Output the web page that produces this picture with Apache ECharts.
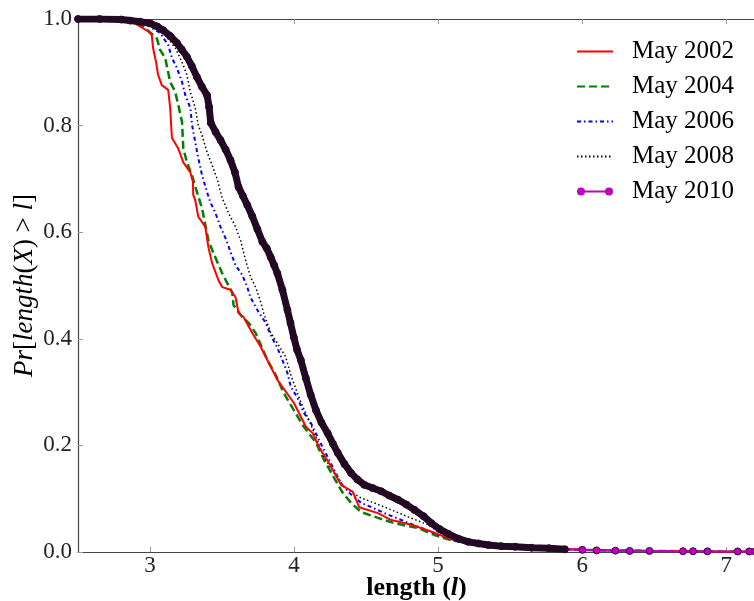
<!DOCTYPE html>
<html>
<head>
<meta charset="utf-8">
<script src="https://cdn.jsdelivr.net/npm/echarts@6/dist/echarts.min.js"></script>
<style>html,body{margin:0;padding:0;background:#fff}#c{width:754px;height:601px}</style>
</head>
<body>
<div id="c"></div>
<script>
// ---- data ----
const seriesNames = ['May 2002', 'May 2004', 'May 2006', 'May 2008', 'May 2010'];
const xTicks = [3, 4, 5, 6, 7];
const yTicks = [0, 0.2, 0.4, 0.6, 0.8, 1.0];

const x2002 = [2.5, 2.79, 2.86, 2.93, 2.986, 3.012, 3.021, 3.042, 3.056, 3.082, 3.126, 3.14, 3.152, 3.196, 3.231, 3.28, 3.298, 3.30, 3.314, 3.335, 3.384, 3.405, 3.431, 3.475, 3.501, 3.559, 3.594, 3.615, 3.649, 3.71, 3.768, 3.824, 3.884, 3.998, 4.082, 4.129, 4.173, 4.243, 4.326, 4.408, 4.452, 4.582, 4.675, 4.815, 4.975, 5.09, 5.30, 5.58, 6.0, 6.49, 7.2];
const y2002 = [1.0, 0.999, 0.998, 0.986, 0.977, 0.970, 0.946, 0.919, 0.895, 0.876, 0.867, 0.833, 0.777, 0.757, 0.731, 0.712, 0.694, 0.670, 0.660, 0.629, 0.610, 0.572, 0.542, 0.510, 0.497, 0.492, 0.478, 0.448, 0.441, 0.411, 0.385, 0.355, 0.323, 0.280, 0.235, 0.223, 0.197, 0.167, 0.126, 0.113, 0.084, 0.073, 0.060, 0.051, 0.036, 0.024, 0.015, 0.009, 0.004, 0.002, 0.0];

const x2004 = [2.5, 2.80, 2.908, 2.965, 3.047, 3.07, 3.105, 3.14, 3.175, 3.196, 3.222, 3.231, 3.256, 3.291, 3.326, 3.361, 3.405, 3.44, 3.501, 3.571, 3.58, 3.64, 3.684, 3.733, 3.815, 3.873, 3.929, 3.998, 4.068, 4.152, 4.208, 4.268, 4.338, 4.396, 4.466, 4.582, 4.696, 4.861, 4.975, 5.09, 5.30, 5.58, 6.0, 6.49, 7.2];
const y2004 = [1.0, 0.999, 0.995, 0.983, 0.964, 0.942, 0.927, 0.882, 0.863, 0.839, 0.807, 0.758, 0.731, 0.707, 0.675, 0.645, 0.585, 0.561, 0.523, 0.486, 0.463, 0.441, 0.430, 0.411, 0.360, 0.332, 0.298, 0.266, 0.235, 0.205, 0.173, 0.144, 0.111, 0.092, 0.075, 0.064, 0.054, 0.045, 0.032, 0.022, 0.013, 0.008, 0.004, 0.002, 0.0];

const x2006 = [2.5, 2.82, 2.977, 3.07, 3.126, 3.152, 3.187, 3.222, 3.245, 3.28, 3.292, 3.314, 3.335, 3.361, 3.396, 3.419, 3.454, 3.489, 3.524, 3.559, 3.594, 3.64, 3.675, 3.698, 3.754, 3.803, 3.838, 3.884, 3.919, 3.954, 3.977, 4.024, 4.068, 4.117, 4.173, 4.243, 4.326, 4.382, 4.466, 4.547, 4.626, 4.745, 4.884, 5.001, 5.12, 5.30, 5.58, 6.0, 6.49, 7.2];
const y2006 = [1.0, 0.999, 0.989, 0.974, 0.951, 0.927, 0.908, 0.882, 0.857, 0.833, 0.801, 0.769, 0.739, 0.707, 0.675, 0.656, 0.636, 0.610, 0.589, 0.563, 0.538, 0.520, 0.497, 0.477, 0.450, 0.430, 0.407, 0.383, 0.360, 0.336, 0.310, 0.289, 0.261, 0.242, 0.210, 0.173, 0.129, 0.111, 0.092, 0.083, 0.073, 0.060, 0.045, 0.032, 0.021, 0.014, 0.009, 0.004, 0.002, 0.0];

const x2008 = [2.5, 2.84, 2.986, 3.105, 3.175, 3.222, 3.256, 3.28, 3.314, 3.335, 3.361, 3.396, 3.431, 3.466, 3.501, 3.545, 3.594, 3.628, 3.663, 3.698, 3.733, 3.768, 3.789, 3.838, 3.884, 3.942, 3.98, 4.047, 4.094, 4.152, 4.208, 4.278, 4.348, 4.452, 4.557, 4.675, 4.792, 4.931, 5.001, 5.12, 5.30, 5.58, 6.0, 6.49, 7.2];
const y2008 = [1.0, 0.999, 0.995, 0.970, 0.946, 0.919, 0.895, 0.863, 0.833, 0.801, 0.782, 0.750, 0.726, 0.700, 0.664, 0.636, 0.610, 0.585, 0.548, 0.516, 0.497, 0.469, 0.448, 0.411, 0.392, 0.366, 0.330, 0.281, 0.253, 0.216, 0.178, 0.148, 0.122, 0.103, 0.092, 0.079, 0.066, 0.051, 0.038, 0.023, 0.014, 0.009, 0.004, 0.002, 0.0];

const x2010 = [2.5, 2.65, 2.8, 2.861, 2.93, 3.0, 3.05, 3.091, 3.14, 3.187, 3.22, 3.256, 3.29, 3.326, 3.36, 3.396, 3.41, 3.422, 3.455, 3.489, 3.525, 3.559, 3.59, 3.614, 3.645, 3.675, 3.71, 3.745, 3.78, 3.81, 3.838, 3.862, 3.884, 3.919, 3.954, 3.975, 3.998, 4.02, 4.047, 4.082, 4.115, 4.152, 4.19, 4.233, 4.27, 4.303, 4.35, 4.396, 4.44, 4.487, 4.545, 4.605, 4.66, 4.722, 4.78, 4.836, 4.9, 4.954, 5.01, 5.071, 5.14, 5.21, 5.28, 5.35, 5.44, 5.534, 5.65, 5.769, 5.88, 6.001, 6.1, 6.231, 6.33, 6.467, 6.70, 6.77, 6.87, 7.08, 7.16, 7.2];
const y2010 = [1.0, 1.0, 0.999, 0.997, 0.995, 0.992, 0.986, 0.979, 0.968, 0.955, 0.943, 0.929, 0.912, 0.891, 0.873, 0.857, 0.835, 0.805, 0.788, 0.773, 0.755, 0.735, 0.712, 0.685, 0.668, 0.651, 0.630, 0.606, 0.582, 0.570, 0.553, 0.538, 0.523, 0.492, 0.454, 0.430, 0.403, 0.380, 0.360, 0.326, 0.295, 0.266, 0.243, 0.223, 0.203, 0.186, 0.165, 0.148, 0.136, 0.126, 0.120, 0.114, 0.106, 0.098, 0.089, 0.079, 0.067, 0.054, 0.043, 0.034, 0.025, 0.019, 0.016, 0.013, 0.011, 0.010, 0.008, 0.007, 0.005, 0.004, 0.003, 0.0025, 0.002, 0.002, 0.0015, 0.0015, 0.0012, 0.001, 0.001, 0.001];

// ---- chart ----
const pair = (xs, ys) => xs.map((x, i) => [x, ys[i]]);
const FONT = 'Liberation Serif';
const bandCut = 6.0;

const chart = echarts.init(document.getElementById('c'), null, {renderer: 'canvas'});
const axisLineStyle = {color: '#444', width: 1.2};
const tickStyle = {color: '#999', width: 1};
const hideSym = {opacity: 0};

chart.setOption({
  animation: false,
  backgroundColor: '#fff',
  grid: {left: 78, top: 19, width: 677, height: 533, containLabel: false, outerBoundsMode: 'none'},
  legend: {
    orient: 'vertical', left: 571, top: 34,
    itemWidth: 36, itemHeight: 8, itemGap: 10,
    textStyle: {fontFamily: FONT, fontSize: 25, color: '#000', padding: [0, 0, 0, 14], lineHeight: 23},
    data: [
      {name: seriesNames[0], itemStyle: hideSym}, {name: seriesNames[1], itemStyle: hideSym},
      {name: seriesNames[2], itemStyle: hideSym}, {name: seriesNames[3], itemStyle: hideSym},
      {name: seriesNames[4], icon: 'path://M0,5A4,4,0,1,1,8,5A4,4,0,1,1,0,5ZM28,5A4,4,0,1,1,36,5A4,4,0,1,1,28,5ZM4,4L32,4L32,6L4,6Z',
       itemStyle: {color: '#bf00bf', borderWidth: 0}}
    ]
  },
  xAxis: [{
    type: 'value', min: 2.5, max: 7.2, position: 'bottom',
    name: 'length ({i|l})', nameLocation: 'middle', nameGap: 23, nameMoveOverlap: false,
    nameTextStyle: {fontFamily: FONT, fontSize: 26, fontWeight: 'bold', color: '#000',
      rich: {i: {fontFamily: FONT, fontSize: 26, fontStyle: 'italic', color: '#000'}}},
    axisLine: {show: true, lineStyle: axisLineStyle},
    axisTick: {show: true, inside: true, length: 5, lineStyle: tickStyle, customValues: xTicks},
    axisLabel: {show: true, fontFamily: FONT, fontSize: 23, color: '#222', margin: 2, customValues: xTicks},
    splitLine: {show: false}
  }, {
    type: 'value', min: 2.5, max: 7.2, position: 'top',
    axisLine: {show: true, onZero: false, lineStyle: axisLineStyle},
    axisTick: {show: true, inside: true, length: 5, lineStyle: tickStyle, customValues: xTicks},
    axisLabel: {show: false},
    splitLine: {show: false}
  }],
  yAxis: {
    type: 'value', min: 0, max: 1, interval: 0.2,
    name: '{i|Pr}[{i|length}({i|X}) > {i|l}]', nameLocation: 'middle', nameGap: 40, nameRotate: 90, nameMoveOverlap: false,
    nameTextStyle: {fontFamily: FONT, fontSize: 27, color: '#000',
      rich: {i: {fontFamily: FONT, fontSize: 27, fontStyle: 'italic', color: '#000'}}},
    axisLine: {show: true, lineStyle: axisLineStyle},
    axisTick: {show: true, inside: true, length: 5, lineStyle: tickStyle},
    axisLabel: {fontFamily: FONT, fontSize: 23, color: '#222', margin: 6, formatter: v => v.toFixed(1)},
    splitLine: {show: false}
  },
  series: [
    {name: seriesNames[0], type: 'line', symbol: 'none', data: pair(x2002, y2002), z: 3,
     lineStyle: {color: '#ff0000', width: 2}, itemStyle: {color: '#ff0000'}},
    {name: seriesNames[1], type: 'line', symbol: 'none', data: pair(x2004, y2004), z: 2,
     lineStyle: {color: '#008000', width: 2.5, type: [8, 4]}, itemStyle: {color: '#008000'}},
    {name: seriesNames[2], type: 'line', symbol: 'none', data: pair(x2006, y2006), z: 2,
     lineStyle: {color: '#0000ff', width: 2, type: [4, 3, 1.5, 3]}, itemStyle: {color: '#0000ff'}},
    {name: seriesNames[3], type: 'line', symbol: 'none', data: pair(x2008, y2008), z: 2,
     lineStyle: {color: '#000000', width: 1.5, type: [1.5, 2.5]}, itemStyle: {color: '#000000'}},
    {name: seriesNames[4], type: 'line', symbol: 'circle', symbolSize: 7, showSymbol: true, data: pair(x2010, y2010), z: 4,
     lineStyle: {color: '#bf00bf', width: 2}, itemStyle: {color: '#bf00bf', borderColor: '#3a003a', borderWidth: 1}},
    {name: 'band', type: 'line', symbol: 'none', silent: true, z: 5,
     data: pair(x2010, y2010).filter(p => p[0] <= bandCut),
     lineStyle: {color: '#230a23', width: 7, cap: 'round', join: 'round'}}
  ]
});
</script>
</body>
</html>
